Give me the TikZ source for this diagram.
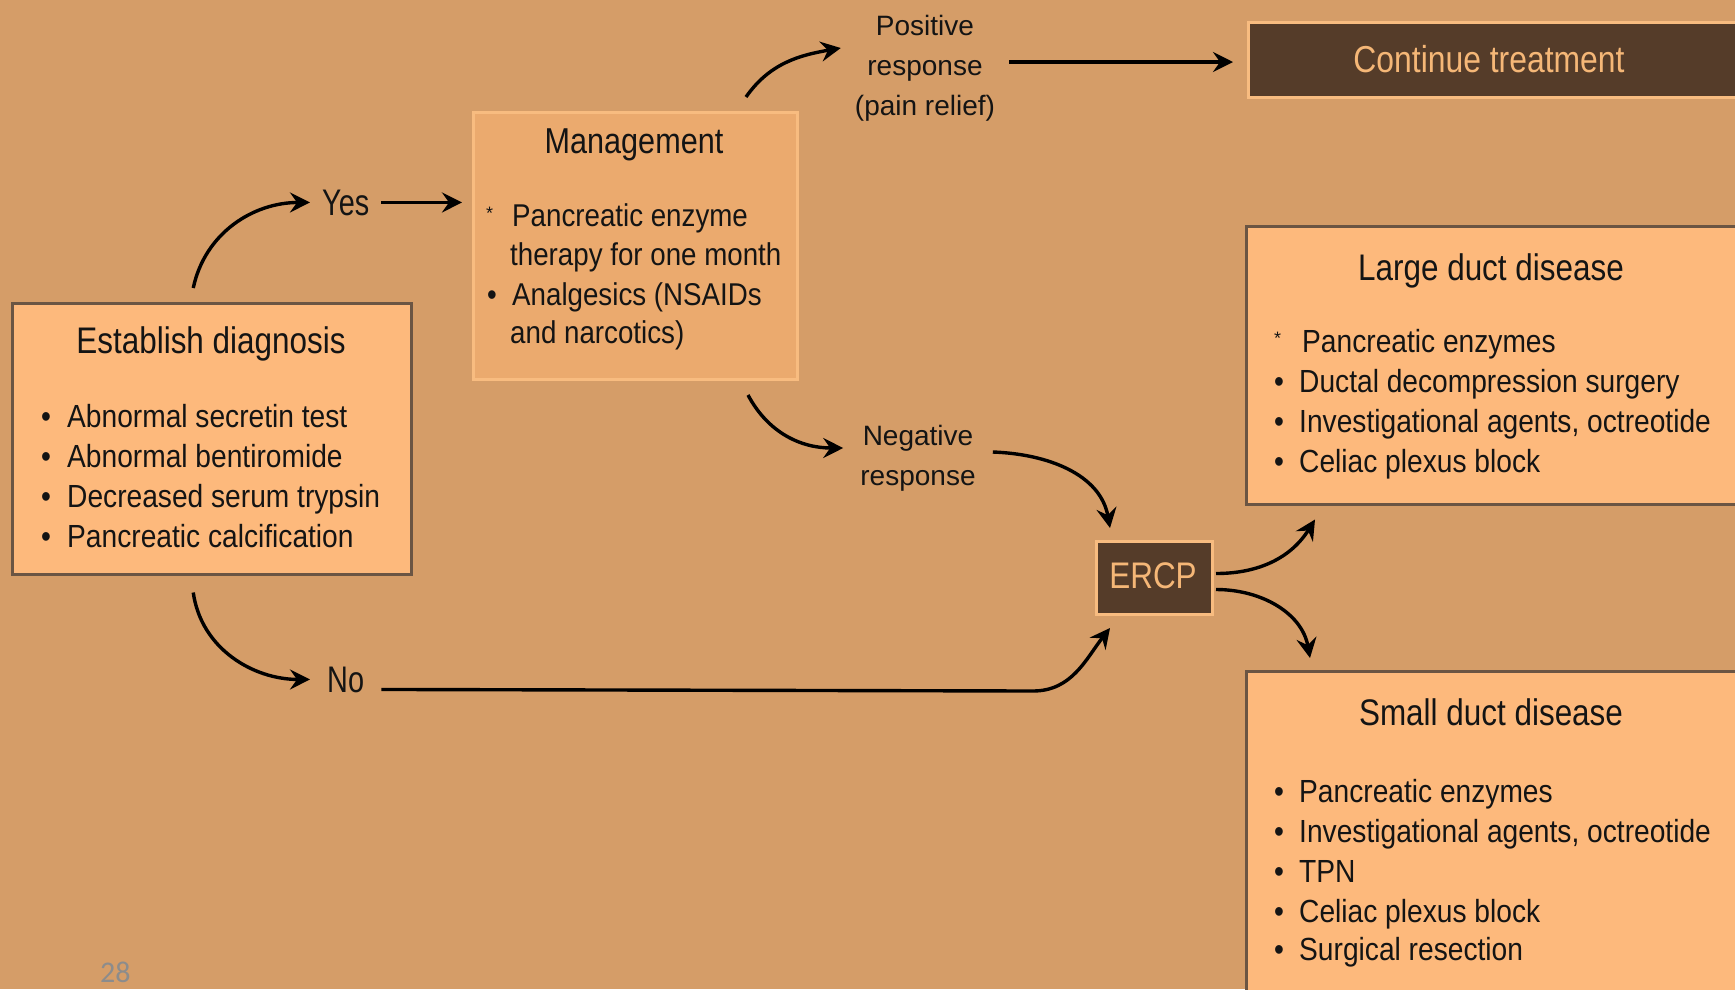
\documentclass[tikz,border=0pt]{standalone}
\usepackage{fontspec}
\setmainfont{Liberation Sans}
\newfontfamily\ttlfam[FakeStretch=0.85]{Liberation Sans}
\newfontfamily\lstfam[FakeStretch=0.88]{Liberation Sans}
\newfontfamily\ynfam[FakeStretch=0.78]{Liberation Sans}
\newfontfamily\pgfam{Carlito}
\usetikzlibrary{arrows.meta,calc}
\definecolor{bg}{HTML}{D59D68}
\definecolor{boxfill}{HTML}{FDB97C}
\definecolor{mgfill}{HTML}{EBAA6E}
\definecolor{lightline}{HTML}{F8BC80}
\definecolor{darkline}{HTML}{6B5543}
\definecolor{darkfill}{HTML}{553C29}
\definecolor{lighttext}{HTML}{F5B777}
\definecolor{txt}{HTML}{141414}
\definecolor{pggray}{HTML}{8C8C8C}
\tikzset{
  lightbox/.style={draw=darkline, line width=2.5pt, fill=boxfill, inner sep=0pt, anchor=north west},
  mgbox/.style={draw=lightline, line width=3pt, fill=mgfill, inner sep=0pt, anchor=north west},
  darkbox/.style={draw=lightline, line width=3pt, fill=darkfill, inner sep=0pt, anchor=north west},
  ttl/.style={font=\ttlfam\fontsize{37}{44}\selectfont, anchor=base, inner sep=0pt, text=txt},
  item/.style={font=\lstfam\fontsize{32}{38}\selectfont, anchor=base west, inner sep=0pt, text=txt},
  mitem/.style={font=\lstfam\fontsize{31.5}{38}\selectfont, anchor=base west, inner sep=0pt, text=txt},
  star/.style={font=\fontsize{18}{18}\selectfont, anchor=base west, inner sep=0pt, text=txt},
  lbl/.style={font=\fontsize{28}{40}\selectfont, align=center, inner ysep=0pt, text=txt},
  yn/.style={font=\ynfam\fontsize{37}{44}\selectfont, anchor=base west, inner ysep=0pt, text=txt},
  arr/.style={line width=3.4pt, draw=black, -{Stealth[length=20pt,width=20pt,inset=7pt]}},
}
\begin{document}
\begin{tikzpicture}[x=1pt,y=1pt]
\useasboundingbox (0,0) rectangle (1735,-989);
\clip (0,0) rectangle (1735,-989);
\fill[bg] (0,0) rectangle (1735,-989);

% boxes
\node[lightbox, minimum width=399pt, minimum height=271pt] (est) at (11,-302) {};
\node[mgbox, minimum width=324pt, minimum height=267pt] (mgmt) at (472,-111) {};
\node[darkbox, minimum width=500pt, minimum height=75pt] (cont) at (1247,-21) {};
\node[lightbox, minimum width=500pt, minimum height=278pt] (large) at (1245,-225) {};
\node[lightbox, minimum width=500pt, minimum height=340pt] (small) at (1245,-670) {};
\node[darkbox, minimum width=116pt, minimum height=73pt] (ercp) at (1095,-540) {};

% establish diagnosis
\node[ttl] (esttitle) at (211,-353) {Establish diagnosis};
\foreach \yy/\txt in {427/Abnormal secretin test, 467/Abnormal bentiromide, 507/Decreased serum trypsin, 547/Pancreatic calcification}{
  \node[item] (eb\yy) at (41,-\yy) {•};
  \node[item] (ei\yy) at (67,-\yy) {\txt};
}

% management
\node[ttl, font=\ttlfam\fontsize{36}{44}\selectfont] (mgtitle) at (634,-153) {Management};
\node[star] (ms1) at (486,-219) {*};
\node[mitem] (mi1) at (512,-226) {Pancreatic enzyme};
\node[mitem] (mi2) at (510,-265) {therapy for one month};
\node[mitem] (mb3) at (487,-305) {•};
\node[mitem] (mi3) at (512,-305) {Analgesics (NSAIDs};
\node[mitem] (mi4) at (510,-343) {and narcotics)};

% continue treatment
\node[ttl, font=\ttlfam\fontsize{37.5}{44}\selectfont, text=lighttext] (conttext) at (1489,-72) {Continue treatment};

% ERCP
\node[ttl, text=lighttext] (ercptext) at (1153,-588) {ERCP};

% large duct disease
\node[ttl] (largetitle) at (1491,-280) {Large duct disease};
\node[star] (ls1) at (1274,-344) {*};
\node[item] (li1) at (1302,-352) {Pancreatic enzymes};
\foreach \yy/\txt in {392/Ductal decompression surgery, 432/{Investigational agents, octreotide}, 472/Celiac plexus block}{
  \node[item] (lb\yy) at (1274,-\yy) {•};
  \node[item] (li\yy) at (1299,-\yy) {\txt};
}

% small duct disease
\node[ttl] (smalltitle) at (1491,-725) {Small duct disease};
\foreach \yy/\txt in {802/Pancreatic enzymes, 842/{Investigational agents, octreotide}, 882/TPN, 922/Celiac plexus block, 960/Surgical resection}{
  \node[item] (sb\yy) at (1274,-\yy) {•};
  \node[item] (si\yy) at (1299,-\yy) {\txt};
}

% labels
\node[yn, inner xsep=12pt] (yes) at (310,-215) {Yes};
\node[yn, inner xsep=17pt] (no) at (310,-692) {No};
\node[lbl, inner xsep=14pt] (pos) at (925,-68) {Positive\\response\\(pain relief)};
\node[lbl, inner xsep=17pt] (neg) at (918,-458) {Negative\\response};

% page number
\node[font=\pgfam\fontsize{30}{36}\selectfont, text=pggray, anchor=base west, inner sep=0pt] (pgnum) at (100,-982) {28};

% connectors
\draw[arr] ([xshift=-18.5pt,yshift=14pt]est.north) to[out=78,in=180] (yes.west);
\draw[arr, shorten >=10pt] (yes.east) -- (yes.east -| mgmt.west);
\draw[arr] ([xshift=-18.5pt,yshift=-17pt]est.south) to[out=-82,in=180] (no.west);
\draw[arr] ([yshift=-10pt]no.east) -- ([xshift=-62pt,yshift=-75pt]ercp.south west) to[out=0,in=232] ([xshift=15pt,yshift=-12pt]ercp.south west);
\draw[arr] ([xshift=-53pt,yshift=14pt]mgmt.north east) to[out=55,in=190] ([yshift=20pt]pos.west);
\draw[arr, shorten >=14pt] ([yshift=6pt]pos.east) -- ([yshift=6pt]pos.east -| cont.west);
\draw[arr] ([xshift=-51pt,yshift=-14pt]mgmt.south east) to[out=-62,in=180] ([yshift=10pt]neg.west);
\draw[arr] ([yshift=6pt]neg.east) to[out=-2,in=100] ([xshift=15pt,yshift=12pt]ercp.north west);
\draw[arr] ([xshift=2pt,yshift=4.5pt]ercp.east) to[out=0,in=238] ([xshift=70pt,yshift=-14pt]large.south west);
\draw[arr] ([xshift=2pt,yshift=-11.5pt]ercp.east) to[out=0,in=100] ([xshift=65pt,yshift=12pt]small.north west);
\end{tikzpicture}
\end{document}
